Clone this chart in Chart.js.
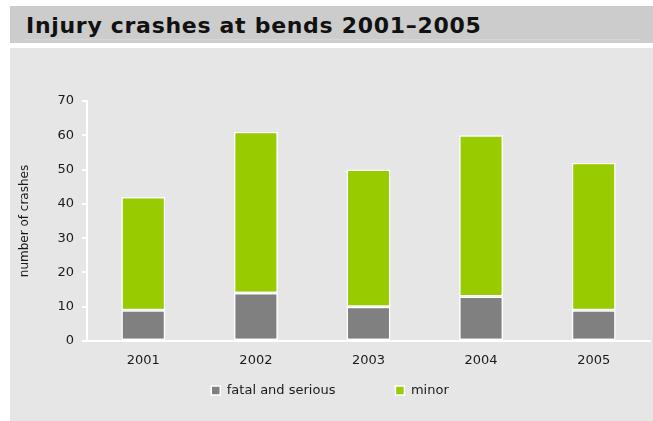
<!DOCTYPE html>
<html>
<head>
<meta charset="utf-8">
<script src="https://cdn.jsdelivr.net/npm/chart.js@4"></script>
<style>
  html, body { margin: 0; padding: 0; background: #ffffff; }
  body { width: 653px; height: 421px; position: relative; overflow: hidden; font-family: "DejaVu Sans", Verdana, sans-serif; }
  #title {
    position: absolute; left: 10px; top: 6px; width: 643px; height: 37px;
    background: #cccccc; box-sizing: border-box;
  }
  #title h1 {
    margin: 0; position: absolute; left: 16px; top: 9px; line-height: 22px;
    font: bold 22px/22px "DejaVu Sans", Verdana, sans-serif; color: #111111; letter-spacing: 0.7px;
    white-space: nowrap;
  }
  #title .rule { position: absolute; left: 15px; right: 12px; top: 33px; height: 1px; background: #d6d6d6; }
  #panel {
    position: absolute; left: 10px; top: 48px; width: 643px; height: 373px; background: #e6e6e6;
  }
</style>
</head>
<body>
<div id="title"><h1>Injury crashes at bends 2001–2005</h1><div class="rule"></div></div>
<div id="panel"><canvas id="c" width="643" height="373"></canvas></div>
<script>
const years = ['2001', '2002', '2003', '2004', '2005'];
const fatalSerious = [9, 14, 10, 13, 9];
const minor = [33, 47, 40, 47, 43];
const yTicks = [0, 10, 20, 30, 40, 50, 60, 70];

const textColor = '#1a1a1a';
const font = { family: '"DejaVu Sans", Verdana, sans-serif', size: 13 };

// Wide gap between legend items without the matching vertical padding:
// keep the legend box short and lift its contents while drawing.
const LEGEND_PAD = 60;
const LEGEND_HEIGHT = 50;
const LEGEND_LIFT = 47;
const compactLegend = {
  id: 'compactLegend',
  beforeLayout(chart) {
    const lg = chart.legend;
    if (!lg || lg._compact) return;
    const fit = lg.fit.bind(lg);
    lg.fit = function () { fit(); this.height = LEGEND_HEIGHT; };
    const draw = lg.draw.bind(lg);
    lg.draw = function () { this.top -= LEGEND_LIFT; draw(); this.top += LEGEND_LIFT; };
    lg._compact = true;
  }
};

new Chart(document.getElementById('c'), {
  type: 'bar',
  data: {
    labels: years,
    datasets: [
      { label: 'fatal and serious', data: fatalSerious, backgroundColor: '#808080', borderColor: '#ffffff', borderWidth: 1.5, borderSkipped: false },
      { label: 'minor', data: minor, backgroundColor: '#99cc00', borderColor: '#ffffff', borderWidth: 1.5, borderSkipped: false }
    ]
  },
  plugins: [compactLegend],
  options: {
    responsive: false,
    animation: false,
    layout: { padding: { left: 0, right: 3, top: 53, bottom: 0 } },
    datasets: { bar: { barPercentage: 0.39, categoryPercentage: 1.0 } },
    scales: {
      x: {
        stacked: true,
        grid: { display: false },
        border: { display: true, color: '#ffffff', width: 2 },
        ticks: { color: textColor, font: font, padding: 4 },
        afterFit: s => { s.height = 30; }
      },
      y: {
        stacked: true,
        min: 0, max: 70,
        afterBuildTicks: s => { s.ticks = yTicks.map(v => ({ value: v })); },
        grid: { drawOnChartArea: false, color: '#ffffff', tickLength: 5, lineWidth: 2 },
        border: { display: true, color: '#ffffff', width: 2 },
        ticks: { color: textColor, font: font, padding: 8 },
        title: { display: true, text: 'number of crashes', color: textColor, font: { family: font.family, size: 12 }, padding: { top: 8, bottom: 0 } },
        afterFit: s => { s.width = 77; }
      }
    },
    plugins: {
      legend: {
        position: 'bottom',
        labels: { color: textColor, font: font, boxWidth: 9, boxHeight: 9, padding: LEGEND_PAD }
      },
      tooltip: { enabled: false }
    }
  }
});
</script>
</body>
</html>
